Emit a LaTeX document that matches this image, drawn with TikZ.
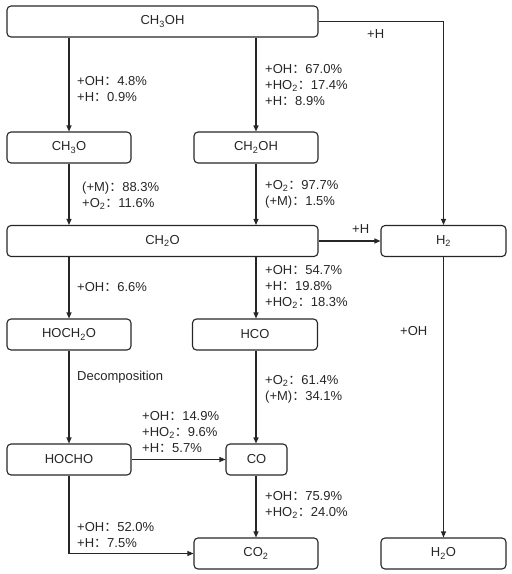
\documentclass[tikz,border=0pt]{standalone}
\usepackage{fontspec}
\setmainfont{Liberation Sans}
\newfontfamily\cjk{Noto Sans CJK SC}
\usetikzlibrary{arrows.meta}
\newcommand{\cl}{{\cjk ：}}
\newcommand{\sbs}[1]{\textsubscript{#1}}
\definecolor{ink}{HTML}{262626}
\tikzset{
  box/.style={draw=ink, line width=1.1pt, rounded corners=4pt, minimum height=31pt, inner sep=0pt, text=ink, font=\fontsize{13}{16}\selectfont},
  wide/.style={box, minimum width=311pt},
  mid/.style={box, minimum width=124pt},
  sm/.style={box, minimum width=61pt},
  lab/.style={anchor=west, align=left, inner sep=0pt, text=ink, font=\fontsize{13}{16}\selectfont},
  arr/.style={draw=ink, line width=1.1pt, -{Triangle[length=6pt,width=5pt]}},
}
\begin{document}
\begin{tikzpicture}[x=1pt,y=-1pt]
\useasboundingbox (0,0) rectangle (512,574);
% boxes
\node[wide] (ch3oh) at (162.5,21.5) {CH\sbs{3}OH};
\node[mid] (ch3o) at (69,147.5) {CH\sbs{3}O};
\node[mid] (ch2oh) at (256,147.5) {CH\sbs{2}OH};
\node[wide] (ch2o) at (162.5,241) {CH\sbs{2}O};
\node[box, minimum width=125pt] (h2) at (443.5,241) {H\sbs{2}};
\node[mid] (hoch2o) at (69,334.5) {HOCH\sbs{2}O};
\node[box, minimum width=125pt] (hco) at (255,334.5) {HCO};
\node[mid] (hocho) at (69,459.5) {HOCHO};
\node[sm] (co) at (256.5,459.5) {CO};
\node[mid] (co2) at (256,553.5) {CO\sbs{2}};
\node[box, minimum width=125pt] (h2o) at (443.5,553.5) {H\sbs{2}O};
% connectors
\draw[arr] (ch3oh.south -| ch3o) -- (ch3o.north);
\draw[arr] (ch3oh.south -| ch2oh) -- (ch2oh.north);
\draw[arr] (ch3oh.east) -| (h2.north);
\draw[arr] (ch3o.south) -- (ch2o.north -| ch3o);
\draw[arr] (ch2oh.south) -- (ch2o.north -| ch2oh);
\draw[arr] (ch2o.east) -- (h2.west);
\draw[arr] (ch2o.south -| hoch2o) -- (hoch2o.north);
\draw[arr] (ch2o.south -| ch2oh) -- (hco.north -| ch2oh);
\draw[arr] (hoch2o.south) -- (hocho.north);
\draw[arr] (hco.south -| ch2oh) -- (co.north -| ch2oh);
\draw[arr] (hocho.east) -- (co.west);
\draw[arr] (hocho.south) |- (co2.west);
\draw[arr] (co.south -| ch2oh) -- (co2.north -| ch2oh);
\draw[arr] (h2.south) -- (h2o.north);
% labels
\node[lab] (l1) at (77,89) {+OH\cl 4.8\%\\+H\cl 0.9\%};
\node[lab] (l2) at (265,85) {+OH\cl 67.0\%\\+HO\sbs{2}\cl 17.4\%\\+H\cl 8.9\%};
\node[lab] (l3) at (367,34) {+H};
\node[lab] (l4) at (82,196) {(+M)\cl 88.3\%\\+O\sbs{2}\cl 11.6\%};
\node[lab] (l5) at (265,194) {+O\sbs{2}\cl 97.7\%\\(+M)\cl 1.5\%};
\node[lab] (l6) at (352,229) {+H};
\node[lab] (l7) at (77,287) {+OH\cl 6.6\%};
\node[lab] (l8) at (265,287) {+OH\cl 54.7\%\\+H\cl 19.8\%\\+HO\sbs{2}\cl 18.3\%};
\node[lab] (l9) at (400,331) {+OH};
\node[lab] (l10) at (77,377) {Decomposition};
\node[lab] (l11) at (265,389) {+O\sbs{2}\cl 61.4\%\\(+M)\cl 34.1\%};
\node[lab] (l12) at (142,432) {+OH\cl 14.9\%\\+HO\sbs{2}\cl 9.6\%\\+H\cl 5.7\%};
\node[lab] (l13) at (265,505) {+OH\cl 75.9\%\\+HO\sbs{2}\cl 24.0\%};
\node[lab] (l14) at (77,535) {+OH\cl 52.0\%\\+H\cl 7.5\%};
\end{tikzpicture}
\end{document}
